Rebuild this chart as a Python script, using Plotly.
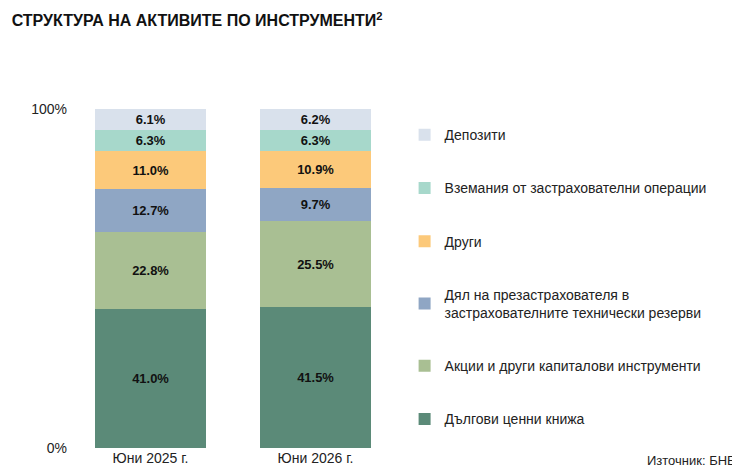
import plotly.graph_objects as go

periods = ["Юни 2025 г.", "Юни 2026 г."]
series = [
    "Дългови ценни книжа",
    "Акции и други капиталови инструменти",
    "Дял на презастрахователя в<br>застрахователните технически резерви",
    "Други",
    "Вземания от застрахователни операции",
    "Депозити",
]
values = [
    [41.0, 41.5],
    [22.8, 25.5],
    [12.7, 9.7],
    [11.0, 10.9],
    [6.3, 6.3],
    [6.1, 6.2],
]
colors = ["#5b8a78", "#a9bf93", "#8fa6c4", "#fcc97a", "#a7d8cb", "#d9e1ec"]

fig = go.Figure()
for i, (name, vals, col) in enumerate(zip(series, values, colors)):
    fig.add_trace(go.Bar(
        x=periods, y=vals, name=name, marker_color=col, marker_line_width=0,
        text=[f"<b>{v:.1f}%</b>" for v in vals], textposition="inside",
        insidetextanchor="middle", textangle=0,
        textfont=dict(size=15, color="#111", family="Liberation Sans"),
        legendgroup=str(i), legendrank=len(series) - i, width=0.67,
    ))

fig.update_layout(
    barmode="stack", width=740, height=472,
    plot_bgcolor="white", paper_bgcolor="white",
    margin=dict(l=60, r=350, t=101, b=32),
    font=dict(family="Liberation Sans", size=14, color="#222"),
    title=dict(text="<b>СТРУКТУРА НА АКТИВИТЕ ПО ИНСТРУМЕНТИ<sup>2</sup></b>",
               x=0.005, xanchor="left", y=0.985, yanchor="top",
               font=dict(size=16, color="#111")),
    yaxis=dict(range=[0, 100], tickvals=[0, 100], ticktext=["0%", "100%"],
               showgrid=False, zeroline=False, ticklen=0),
    xaxis=dict(showline=False, tickfont=dict(size=14)),
    legend=dict(x=1.02, xanchor="left", y=0.97, yanchor="top",
                traceorder="grouped", tracegroupgap=32,
                font=dict(size=14), itemwidth=30),
    uniformtext=dict(minsize=8, mode="show"),
)
fig.add_annotation(text="Източник: БНБ", xref="paper", yref="paper",
                   x=2.03, y=-0.01, xanchor="right", yanchor="top",
                   showarrow=False, font=dict(size=13))
fig.write_html("out.html")
